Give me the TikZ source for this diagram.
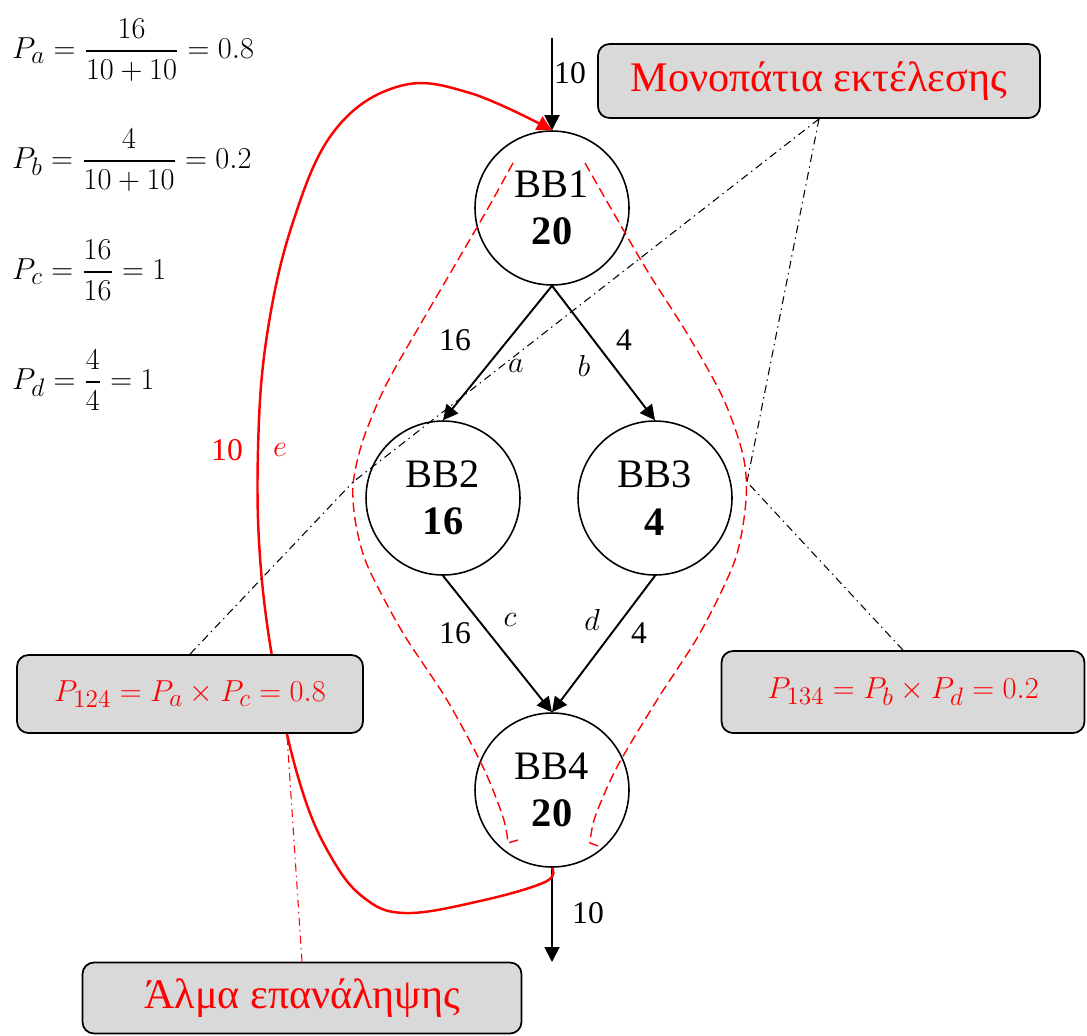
\documentclass[tikz,border=0pt]{standalone}
\usepackage{amsmath}
\usepackage{fontspec}
\setmainfont{Liberation Serif}
\usetikzlibrary{arrows.meta,positioning}
\definecolor{C_box}{RGB}{217,217,217}
\definecolor{C_red}{RGB}{255,0,0}

\begin{document}
\begin{tikzpicture}[x=0.02cm, y=-0.02cm, every node/.style={font=\fontsize{18}{20}\selectfont}]
  \tikzset{
    bb/.style={circle, draw, line width=0.9pt, minimum size=3.08cm, inner sep=0pt, align=center, font=\fontsize{23}{27}\selectfont},
    flow/.style={-{Triangle[length=3mm, width=3mm]}, line width=1.1pt},
    note/.style={rectangle, rounded corners=6.5pt, draw, line width=1pt, fill=C_box, text=C_red, inner sep=0pt, font=\fontsize{19}{21}\selectfont},
    greek/.style={font=\fontsize{24}{27}\selectfont},
    execpath/.style={C_red, line width=0.8pt, dash pattern=on 5.5pt off 2.8pt},
    pointer/.style={line width=0.6pt, dash pattern=on 4.5pt off 2.5pt on 0.8pt off 2.5pt},
    backedge/.style={C_red, line width=1.4pt, -{Triangle[length=3mm, width=3mm]}},
    eq/.style={anchor=west, font=\fontsize{19}{21}\selectfont}
  }
  \useasboundingbox (0,0) rectangle (1087,1035);

  % branch probabilities
  \node[eq] (pa) at (6,50) {$P_a=\dfrac{16}{10+10}=0.8$};
  \node[eq] (pb) at (6,160) {$P_b=\dfrac{4}{10+10}=0.2$};
  \node[eq] (pc) at (6,270) {$P_c=\dfrac{16}{16}=1$};
  \node[eq] (pd) at (6,380) {$P_d=\dfrac{4}{4}=1$};

  % basic blocks
  \node[bb] (bb1) at (552,208) {BB1\\\textbf{20}};
  \node[bb] (bb2) at (443,498) {BB2\\\textbf{16}};
  \node[bb] (bb3) at (655,498) {BB3\\\textbf{4}};
  \node[bb] (bb4) at (552,790) {BB4\\\textbf{20}};
  \coordinate (in) at (552,38);
  \coordinate (out) at (552,962);

  \draw[flow] (in) -- (bb1.north);
  \draw[flow] (bb1.south) -- (bb2.north);
  \draw[flow] (bb1.south) -- (bb3.north);
  \draw[flow] (bb2.south) -- (bb4.north);
  \draw[flow] (bb3.south) -- (bb4.north);
  \draw[flow] (bb4.south) -- (out);

  \node (nin) at (570,73) {10};
  \node (nout) at (588,913) {10};
  \node (n12) at (455,340) {16};
  \node (la) at (516,366) {$a$};
  \node (n13) at (624,340) {4};
  \node (lb) at (584,366) {$b$};
  \node (n24) at (455,633) {16};
  \node (lc) at (510,620) {$c$};
  \node (ld) at (592,620) {$d$};
  \node (n34) at (639,633) {4};

  % execution paths
  \draw[execpath] plot[smooth] coordinates {(513,163) (487,210) (455,265) (420,325) (386,385) (363,440) (353,485) (356,525) (368,567) (403,633) (447,700) (483,767) (503,817) (508,843)} -- ++(10,-3);
  \draw[execpath] plot[smooth] coordinates {(585,163) (613,212) (648,272) (688,335) (723,398) (743,455) (746,500) (735,560) (700,633) (657,700) (617,767) (595,817) (590,843)} -- ++(8,3);

  % loop back edge
  \draw[backedge] plot[smooth, tension=0.65] coordinates {(bb4.south) (545,882) (480,901) (405,913) (363,897) (330,855) (302,790) (278,690) (261,570) (258,450) (267,335) (293,222) (335,130) (400,86) (470,93) (bb1.north)};
  \node[text=C_red] (n41) at (227,450) {10};
  \node[text=C_red] (le) at (280,450) {$e$};

  % callouts
  \node[note, greek, minimum width=8.84cm, minimum height=1.48cm] (paths) at (819,81) {Μονοπάτια εκτέλεσης};
  \node[note, minimum width=6.92cm, minimum height=1.56cm] (p124) at (190,694) {$P_{124}=P_a\times P_c=0.8$};
  \node[note, minimum width=7.26cm, minimum height=1.64cm] (p134) at (903,692) {$P_{134}=P_b\times P_d=0.2$};
  \node[note, greek, minimum width=8.78cm, minimum height=1.42cm] (loopnote) at (302,998) {Άλμα επανάληψης};

  \coordinate (lefthit) at (353,482);
  \coordinate (righthit) at (747,482);
  \coordinate (loophit) at (287,735);
  \draw[pointer] (paths.south) -- (lefthit);
  \draw[pointer] (paths.south) -- (righthit);
  \draw[pointer] (p124.north) -- (lefthit);
  \draw[pointer] (p134.north) -- (righthit);
  \draw[pointer, C_red] (loopnote.north) -- (loophit);
\end{tikzpicture}
\end{document}
